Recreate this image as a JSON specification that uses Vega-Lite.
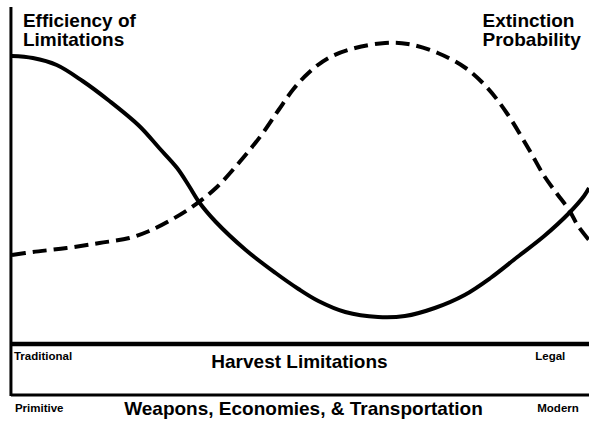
{
  "$schema": "https://vega.github.io/schema/vega-lite/v6.json",
  "width": 592,
  "height": 423,
  "autosize": {"type": "fit", "contains": "padding"},
  "padding": 0,
  "background": "white",
  "config": {"view": {"stroke": null}},
  "datasets": {
    "curves": [
      {"series": "Efficiency", "x": 12, "y": 56},
      {"series": "Efficiency", "x": 33, "y": 58},
      {"series": "Efficiency", "x": 57, "y": 65},
      {"series": "Efficiency", "x": 83, "y": 81},
      {"series": "Efficiency", "x": 110, "y": 101},
      {"series": "Efficiency", "x": 140, "y": 126},
      {"series": "Efficiency", "x": 160, "y": 148},
      {"series": "Efficiency", "x": 178, "y": 168},
      {"series": "Efficiency", "x": 190, "y": 186},
      {"series": "Efficiency", "x": 200, "y": 202},
      {"series": "Efficiency", "x": 217, "y": 222},
      {"series": "Efficiency", "x": 247, "y": 250},
      {"series": "Efficiency", "x": 277, "y": 273},
      {"series": "Efficiency", "x": 300, "y": 289},
      {"series": "Efficiency", "x": 320, "y": 301},
      {"series": "Efficiency", "x": 347, "y": 312},
      {"series": "Efficiency", "x": 380, "y": 317},
      {"series": "Efficiency", "x": 407, "y": 316},
      {"series": "Efficiency", "x": 437, "y": 308},
      {"series": "Efficiency", "x": 467, "y": 295},
      {"series": "Efficiency", "x": 493, "y": 278},
      {"series": "Efficiency", "x": 520, "y": 257},
      {"series": "Efficiency", "x": 547, "y": 236},
      {"series": "Efficiency", "x": 572, "y": 213},
      {"series": "Efficiency", "x": 587, "y": 196},
      {"series": "Efficiency", "x": 592, "y": 188},
      {"series": "Extinction", "x": 12, "y": 255},
      {"series": "Extinction", "x": 33, "y": 252},
      {"series": "Extinction", "x": 67, "y": 248},
      {"series": "Extinction", "x": 100, "y": 243},
      {"series": "Extinction", "x": 130, "y": 238},
      {"series": "Extinction", "x": 150, "y": 231},
      {"series": "Extinction", "x": 170, "y": 221},
      {"series": "Extinction", "x": 193, "y": 207},
      {"series": "Extinction", "x": 217, "y": 188},
      {"series": "Extinction", "x": 240, "y": 163},
      {"series": "Extinction", "x": 262, "y": 136},
      {"series": "Extinction", "x": 280, "y": 110},
      {"series": "Extinction", "x": 295, "y": 89},
      {"series": "Extinction", "x": 310, "y": 73},
      {"series": "Extinction", "x": 330, "y": 58},
      {"series": "Extinction", "x": 357, "y": 48},
      {"series": "Extinction", "x": 387, "y": 43},
      {"series": "Extinction", "x": 410, "y": 44},
      {"series": "Extinction", "x": 440, "y": 53},
      {"series": "Extinction", "x": 468, "y": 68},
      {"series": "Extinction", "x": 490, "y": 88},
      {"series": "Extinction", "x": 510, "y": 114},
      {"series": "Extinction", "x": 532, "y": 150},
      {"series": "Extinction", "x": 547, "y": 176},
      {"series": "Extinction", "x": 560, "y": 194},
      {"series": "Extinction", "x": 572, "y": 210},
      {"series": "Extinction", "x": 581, "y": 226},
      {"series": "Extinction", "x": 592, "y": 240}
    ],
    "frame": [
      {"part": "left", "x": 11, "y": 7, "x2": 11, "y2": 396},
      {"part": "bottom", "x": 11, "y": 395, "x2": 592, "y2": 395}
    ],
    "divider": [
      {"part": "divider", "x": 11, "y": 344, "x2": 592, "y2": 344}
    ],
    "titles": [
      {"label": "Efficiency of", "x": 23, "y": 27},
      {"label": "Limitations", "x": 23, "y": 46},
      {"label": "Extinction", "x": 485, "y": 27},
      {"label": "Probability", "x": 485, "y": 46}
    ],
    "centers": [
      {"label": "Harvest Limitations", "x": 301, "y": 368},
      {"label": "Weapons, Economies, & Transportation", "x": 305, "y": 415}
    ],
    "smalls": [
      {"label": "Traditional", "x": 14, "y": 360},
      {"label": "Legal", "x": 538, "y": 360},
      {"label": "Primitive", "x": 15, "y": 412},
      {"label": "Modern", "x": 540, "y": 412}
    ]
  },
  "layer": [
    {
      "data": {"name": "frame"},
      "mark": {"type": "rule", "color": "black", "strokeWidth": 3},
      "encoding": {
        "x": {"field": "x", "type": "quantitative", "scale": {"domain": [0, 592], "nice": false, "zero": false}, "axis": null},
        "y": {"field": "y", "type": "quantitative", "scale": {"domain": [0, 423], "nice": false, "zero": false, "reverse": true}, "axis": null},
        "x2": {"field": "x2"},
        "y2": {"field": "y2"}
      }
    },
    {
      "data": {"name": "divider"},
      "mark": {"type": "rule", "color": "black", "strokeWidth": 4.5},
      "encoding": {
        "x": {"field": "x", "type": "quantitative"},
        "y": {"field": "y", "type": "quantitative"},
        "x2": {"field": "x2"},
        "y2": {"field": "y2"}
      }
    },
    {
      "data": {"name": "curves"},
      "transform": [{"filter": "datum.series === 'Efficiency'"}],
      "mark": {"type": "line", "color": "black", "strokeWidth": 4, "interpolate": "catmull-rom", "clip": true},
      "encoding": {
        "x": {"field": "x", "type": "quantitative"},
        "y": {"field": "y", "type": "quantitative"}
      }
    },
    {
      "data": {"name": "curves"},
      "transform": [{"filter": "datum.series === 'Extinction'"}],
      "mark": {"type": "line", "color": "black", "strokeWidth": 4, "strokeDash": [14, 7], "interpolate": "catmull-rom", "clip": true},
      "encoding": {
        "x": {"field": "x", "type": "quantitative"},
        "y": {"field": "y", "type": "quantitative"}
      }
    },
    {
      "data": {"name": "titles"},
      "mark": {"type": "text", "font": "Liberation Sans", "fontWeight": "bold", "fontSize": 19, "align": "left", "baseline": "alphabetic", "color": "black"},
      "encoding": {
        "x": {"field": "x", "type": "quantitative"},
        "y": {"field": "y", "type": "quantitative"},
        "text": {"field": "label"}
      }
    },
    {
      "data": {"name": "centers"},
      "mark": {"type": "text", "font": "Liberation Sans", "fontWeight": "bold", "fontSize": 19, "align": "center", "baseline": "alphabetic", "color": "black"},
      "encoding": {
        "x": {"field": "x", "type": "quantitative"},
        "y": {"field": "y", "type": "quantitative"},
        "text": {"field": "label"}
      }
    },
    {
      "data": {"name": "smalls"},
      "mark": {"type": "text", "font": "Liberation Sans", "fontWeight": "bold", "fontSize": 11.5, "align": "left", "baseline": "alphabetic", "color": "black"},
      "encoding": {
        "x": {"field": "x", "type": "quantitative"},
        "y": {"field": "y", "type": "quantitative"},
        "text": {"field": "label"}
      }
    }
  ]
}
